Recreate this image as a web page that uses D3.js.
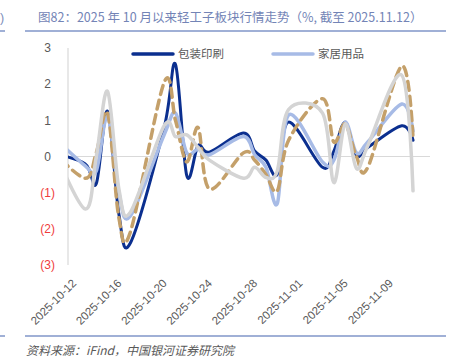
<!DOCTYPE html>
<html>
<head>
<meta charset="utf-8">
<script src="https://cdn.jsdelivr.net/npm/d3@7"></script>
<style>
  html, body { margin: 0; padding: 0; background: #ffffff; }
  svg { display: block; }
</style>
</head>
<body>
<svg id="chart" width="456" height="364"></svg>
<script>
// ---- data ----
const dates = ["2025-10-10","2025-10-13","2025-10-14","2025-10-15","2025-10-16","2025-10-17",
  "2025-10-20","2025-10-21","2025-10-22","2025-10-23","2025-10-24",
  "2025-10-27","2025-10-28","2025-10-29","2025-10-30","2025-10-31",
  "2025-11-03","2025-11-04","2025-11-05","2025-11-06","2025-11-07",
  "2025-11-10","2025-11-11"];
const packaging = [0.1,-0.2,-0.75,1.25,-1.6,-2.4, 0.8,2.55,-0.53,0.3,0.12, 0.65,0.15,-0.1,-0.5,0.95, -0.3,0.15,0.95,0.03,0.25, 0.85,0.45];
const household = [0.6,-0.25,-0.4,1.1,-1.0,-1.65, 0.6,1.2,0.1,0.2,0.05, 0.55,0.05,-0.3,-1.3,1.15, -0.15,-0.1,0.95,0.1,0.4, 1.45,0.7];
const seriesC   = [0.2,-0.6,0.1,1.2,-1.7,-2.1, 2.05,1.0,-0.15,0.8,-0.9, 0.1,-0.1,-0.5,-0.95,0.45, 1.6,0.4,0.9,0.0,-0.3, 2.5,0.5];
const seriesD   = [0.4,-1.45,0.0,1.8,-0.9,-1.55, 0.85,0.55,0.6,0.25,-0.1, -0.6,-0.3,-0.58,-0.4,1.3, 1.2,-0.72,0.9,-0.33,0.3, 2.25,-0.95];
const seriesNames = ["包装印刷","家居用品"];
const yTicks = [3,2,1,0,-1,-2,-3];
const xTickLabels = ["2025-10-12","2025-10-16","2025-10-20","2025-10-24","2025-10-28","2025-11-01","2025-11-05","2025-11-09"];
const titleText = "图82：2025 年 10 月以来轻工子板块行情走势（%, 截至 2025.11.12）";
const sourceText = "资料来源：iFind，中国银河证券研究院";

// ---- setup ----
const svg = d3.select("#chart");
const parse = d3.utcParse("%Y-%m-%d");
const L = 68, R = 430, T = 48, B = 265;

const x = d3.scaleUtc()
  .domain([Date.UTC(2025,9,11,12), Date.UTC(2025,10,12,12)])
  .range([L, R]);
const y = d3.scaleLinear().domain([-3, 3]).range([B, T]);

const cjk = "'Noto Sans CJK SC','Noto Sans',sans-serif";
const latin = "'Liberation Sans',Arial,sans-serif";

// title + rules
svg.append("text").attr("x", 0).attr("y", 22).attr("font-family", latin)
  .attr("font-size", 12.5).attr("fill", "#7d8cba").text(")");
svg.append("text").attr("x", 38).attr("y", 22).attr("font-family", cjk)
  .attr("font-size", 12.5).attr("fill", "#7384b6").text(titleText);
[[0,5],[25,446]].forEach(([a,b]) => {
  svg.append("line").attr("x1", a).attr("x2", b).attr("y1", 31).attr("y2", 31)
    .attr("stroke", "#8096c8").attr("stroke-width", 1.5);
  svg.append("line").attr("x1", a).attr("x2", b).attr("y1", 336).attr("y2", 336)
    .attr("stroke", "#8096c8").attr("stroke-width", 1.5);
});
svg.append("text").attr("x", 26).attr("y", 355).attr("font-family", cjk)
  .attr("font-size", 12).attr("font-style", "italic").attr("fill", "#595959").text(sourceText);

// axes lines
svg.append("line").attr("x1", L).attr("x2", L).attr("y1", y(3)).attr("y2", y(-3))
  .attr("stroke", "#d9d9d9").attr("stroke-width", 1.2);
svg.append("line").attr("x1", L).attr("x2", R).attr("y1", y(0)).attr("y2", y(0))
  .attr("stroke", "#d9d9d9").attr("stroke-width", 1.2);

// y labels
svg.append("g").selectAll("text").data(yTicks).join("text")
  .attr("x", d => d < 0 ? 55 : 51)
  .attr("y", d => y(d)).attr("dy", "0.35em")
  .attr("text-anchor", "end").attr("font-family", latin).attr("font-size", 12)
  .attr("fill", d => d < 0 ? "#f03c3c" : "#595959")
  .text(d => d < 0 ? "(" + Math.abs(d) + ")" : d);

// x labels via axis
const xAxis = d3.axisBottom(x)
  .tickValues(xTickLabels.map(parse))
  .tickFormat(d3.utcFormat("%Y-%m-%d"))
  .tickSize(0);
const gx = svg.append("g").attr("transform", `translate(0,${B + 16})`).call(xAxis);
gx.select(".domain").remove();
gx.selectAll("text")
  .attr("font-family", latin).attr("font-size", 11.5).attr("fill", "#595959")
  .attr("text-anchor", "end").attr("dy", "0.35em").attr("y", 0)
  .attr("transform", "rotate(-45)");

// clip
svg.append("clipPath").attr("id", "clip").append("rect")
  .attr("x", L).attr("y", 0).attr("width", R - L).attr("height", 364);

const pts = arr => arr.map((v, i) => [x(parse(dates[i])), y(v)]);
const line = d3.line().curve(d3.curveCardinal.tension(0));
const plot = svg.append("g").attr("clip-path", "url(#clip)");

const series = [
  {vals: packaging, color: "#0b2f8f", w: 3},
  {vals: household, color: "#a7bbe6", w: 3.5},
  {vals: seriesC, color: "#c4a06a", w: 3.5, dash: "9,6"},
  {vals: seriesD, color: "#d4d4d4", w: 3.5}
];
series.forEach(s => {
  plot.append("path").attr("d", line(pts(s.vals)))
    .attr("fill", "none").attr("stroke", s.color).attr("stroke-width", s.w)
    .attr("stroke-linecap", "round").attr("stroke-linejoin", "round")
    .attr("stroke-dasharray", s.dash || null);
});

// legend
const legend = [
  {name: seriesNames[0], color: "#0b2f8f", x1: 133, x2: 173, tx: 178},
  {name: seriesNames[1], color: "#a7bbe6", x1: 273, x2: 313, tx: 318}
];
legend.forEach(l => {
  svg.append("line").attr("x1", l.x1).attr("x2", l.x2).attr("y1", 54).attr("y2", 54)
    .attr("stroke", l.color).attr("stroke-width", 3.5).attr("stroke-linecap", "round");
  svg.append("text").attr("x", l.tx).attr("y", 54).attr("dy", "0.35em")
    .attr("font-family", cjk).attr("font-size", 11.5).attr("fill", "#595959").text(l.name);
});
</script>
</body>
</html>
